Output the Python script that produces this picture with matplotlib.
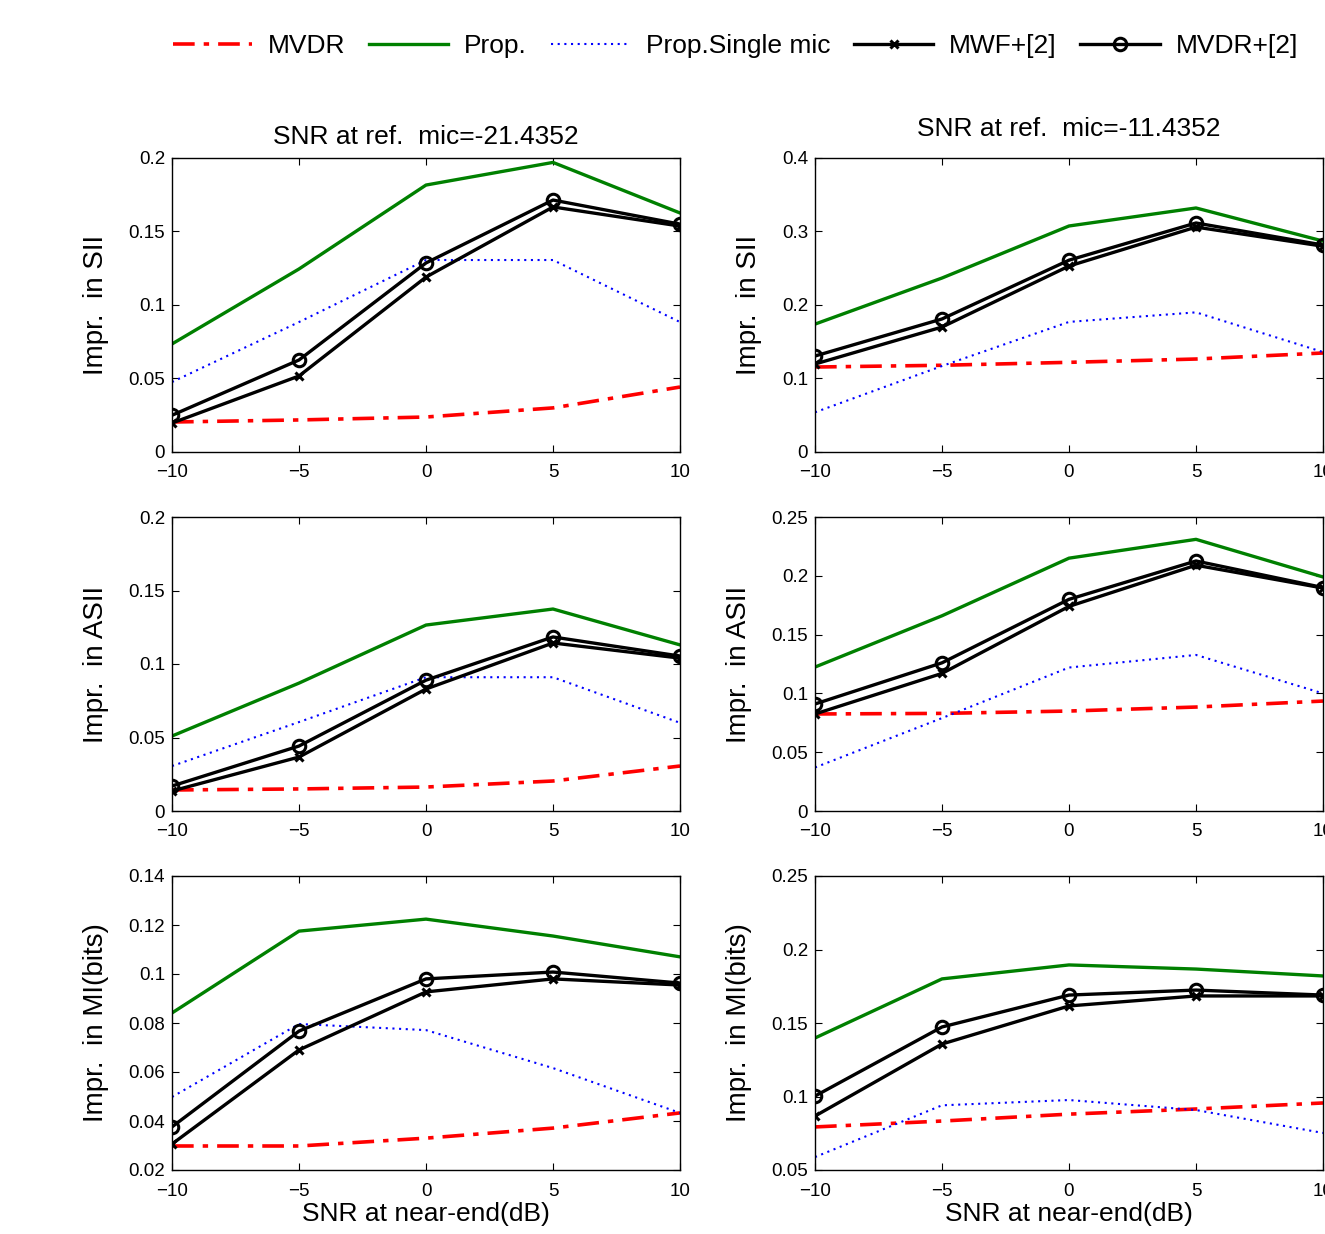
import matplotlib
matplotlib.use("Agg")
import matplotlib.pyplot as plt
from matplotlib.ticker import FuncFormatter, FixedLocator

plt.rcParams['font.family'] = ['Liberation Sans', 'DejaVu Sans']

snr = [-10, -5, 0, 5, 10]
xticks = [-10, -5, 0, 5, 10]
xtick_labels = ['\u221210', '\u22125', '0', '5', '10']

titles = ['SNR at ref.  mic=-21.4352', 'SNR at ref.  mic=-11.4352']
ylabels = ['Impr.  in SII', 'Impr.  in ASII', 'Impr.  in MI(bits)']
xlabel = 'SNR at near-end(dB)'
series_names = ['MVDR', 'Prop.', 'Prop.Single mic', 'MWF+[2]', 'MVDR+[2]']

# SII, ref mic -21.4352
sii_a_mvdr = [0.0204, 0.0218, 0.0238, 0.030, 0.0442]
sii_a_prop = [0.0735, 0.1245, 0.1816, 0.197, 0.1626]
sii_a_single = [0.0476, 0.0884, 0.1306, 0.1306, 0.0884]
sii_a_mwf2 = [0.0197, 0.0517, 0.119, 0.1667, 0.1537]
sii_a_mvdr2 = [0.025, 0.0626, 0.1286, 0.1714, 0.155]
# SII, ref mic -11.4352
sii_b_mvdr = [0.1156, 0.118, 0.122, 0.1265, 0.1347]
sii_b_prop = [0.174, 0.2367, 0.3075, 0.332, 0.287]
sii_b_single = [0.054, 0.117, 0.177, 0.190, 0.136]
sii_b_mwf2 = [0.1197, 0.170, 0.253, 0.306, 0.280]
sii_b_mvdr2 = [0.1306, 0.181, 0.261, 0.3116, 0.2816]
# ASII, ref mic -21.4352
asii_a_mvdr = [0.0143, 0.015, 0.0163, 0.0204, 0.0306]
asii_a_prop = [0.051, 0.087, 0.1265, 0.1374, 0.113]
asii_a_single = [0.0306, 0.0605, 0.091, 0.091, 0.060]
asii_a_mwf2 = [0.0136, 0.0367, 0.083, 0.1143, 0.104]
asii_a_mvdr2 = [0.017, 0.0442, 0.089, 0.1184, 0.1054]
# ASII, ref mic -11.4352
asii_b_mvdr = [0.0825, 0.083, 0.085, 0.0884, 0.0935]
asii_b_prop = [0.1224, 0.166, 0.215, 0.231, 0.199]
asii_b_single = [0.037, 0.079, 0.122, 0.1327, 0.100]
asii_b_mwf2 = [0.0825, 0.117, 0.174, 0.209, 0.1896]
asii_b_mvdr2 = [0.091, 0.126, 0.180, 0.2126, 0.190]
# MI, ref mic -21.4352
mi_a_mvdr = [0.0298, 0.0298, 0.033, 0.0371, 0.0433]
mi_a_prop = [0.0841, 0.1175, 0.1224, 0.1155, 0.107]
mi_a_single = [0.0498, 0.0796, 0.0771, 0.0616, 0.0433]
mi_a_mwf2 = [0.0306, 0.069, 0.0927, 0.098, 0.0955]
mi_a_mvdr2 = [0.0376, 0.0767, 0.098, 0.1008, 0.0963]
# MI, ref mic -11.4352
mi_b_mvdr = [0.0793, 0.0833, 0.088, 0.0915, 0.0956]
mi_b_prop = [0.1398, 0.180, 0.1895, 0.1867, 0.182]
mi_b_single = [0.0588, 0.094, 0.0976, 0.0908, 0.0752]
mi_b_mwf2 = [0.0867, 0.1357, 0.1616, 0.1684, 0.1684]
mi_b_mvdr2 = [0.1003, 0.1473, 0.169, 0.1724, 0.169]

yticks_grid = [
    [[0, 0.05, 0.1, 0.15, 0.2], [0, 0.1, 0.2, 0.3, 0.4]],
    [[0, 0.05, 0.1, 0.15, 0.2], [0, 0.05, 0.1, 0.15, 0.2, 0.25]],
    [[0.02, 0.04, 0.06, 0.08, 0.1, 0.12, 0.14], [0.05, 0.1, 0.15, 0.2, 0.25]],
]

data_grid = [
    [(sii_a_mvdr, sii_a_prop, sii_a_single, sii_a_mwf2, sii_a_mvdr2),
     (sii_b_mvdr, sii_b_prop, sii_b_single, sii_b_mwf2, sii_b_mvdr2)],
    [(asii_a_mvdr, asii_a_prop, asii_a_single, asii_a_mwf2, asii_a_mvdr2),
     (asii_b_mvdr, asii_b_prop, asii_b_single, asii_b_mwf2, asii_b_mvdr2)],
    [(mi_a_mvdr, mi_a_prop, mi_a_single, mi_a_mwf2, mi_a_mvdr2),
     (mi_b_mvdr, mi_b_prop, mi_b_single, mi_b_mwf2, mi_b_mvdr2)],
]

W, H = 1325, 1234
fig = plt.figure(figsize=(W / 100, H / 100), dpi=100)

col_x = [172, 815]
row_top = [158, 517, 876]
aw, ah = 508, 294

fmt = FuncFormatter(lambda v, p: ('%g' % round(v, 4)))

handles = None
for r in range(3):
    for c in range(2):
        ax = fig.add_axes([col_x[c] / W, 1 - (row_top[r] + ah) / H, aw / W, ah / H])
        mv, pr, sg, mw, mv2 = data_grid[r][c]
        h1, = ax.plot(snr, mv, color='red', lw=2.6, dashes=(6, 2.5, 1.5, 2.5))
        h2, = ax.plot(snr, pr, color='#008000', lw=2.4)
        h3, = ax.plot(snr, sg, color='blue', lw=1.5, dashes=(1, 2.2))
        h4, = ax.plot(snr, mw, color='black', lw=2.4, marker='x', ms=6, mew=2.2)
        h5, = ax.plot(snr, mv2, color='black', lw=2.4, marker='o', ms=9, mew=2.2,
                      mfc='none')
        handles = [h1, h2, h3, h4, h5]
        yt = yticks_grid[r][c]
        ax.set_xlim(-10, 10)
        ax.set_ylim(yt[0], yt[-1])
        ax.set_xticks(xticks)
        ax.set_xticklabels(xtick_labels)
        ax.yaxis.set_major_locator(FixedLocator(yt))
        ax.yaxis.set_major_formatter(fmt)
        ax.tick_params(direction='in', top=True, right=True, labelsize=13.5,
                       length=5, width=0.8)
        ax.tick_params(axis='x', pad=9)
        ax.tick_params(axis='y', pad=5)
        for s in ax.spines.values():
            s.set_linewidth(1.0)
        ax.set_ylabel(ylabels[r], fontsize=20, labelpad=14)
        if r == 0:
            ax.set_title(titles[c], fontsize=19, pad=10 if c == 0 else 16)
        if r == 2:
            ax.set_xlabel(xlabel, fontsize=19, labelpad=2)

fig.legend(handles, series_names, loc='center', bbox_to_anchor=(0.555, 1 - 46 / H),
           ncol=5, frameon=False, fontsize=19, handlelength=3.0,
           columnspacing=0.9, handletextpad=0.6)

fig.savefig('out.png', dpi=100)
